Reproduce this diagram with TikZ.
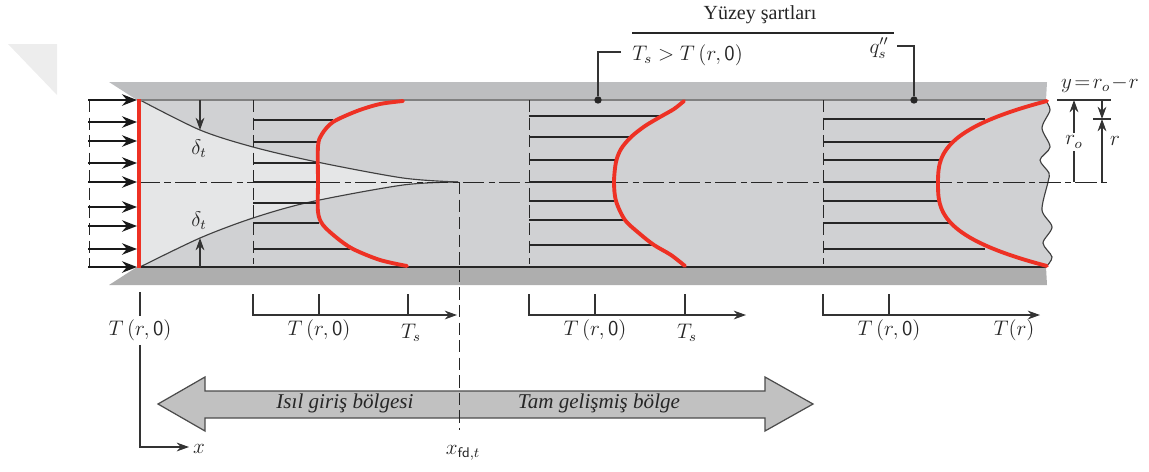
\documentclass[tikz,border=0pt]{standalone}
\usepackage{amsmath,amssymb}
\usepackage{fontspec}
\setmainfont{Liberation Serif}
\usetikzlibrary{arrows.meta,calc}
\definecolor{wallTop}{HTML}{BDBEC0}
\definecolor{wallBot}{HTML}{AEAEAE}
\definecolor{tubeGray}{HTML}{D0D1D3}
\definecolor{coreGray}{HTML}{E5E6E7}
\definecolor{profRed}{HTML}{EE3124}
\definecolor{bandGray}{HTML}{C1C1C1}
\begin{document}
\begin{tikzpicture}[
    x=0.02cm, y=-0.02cm,
    lbl/.style={font=\fontsize{12}{14}\selectfont, inner sep=0pt, text=black!85},
    bar/.style={line width=1.2pt, black!85},
    prof/.style={line width=2.2pt, profRed, line cap=round},
    dashv/.style={line width=0.55pt, dash pattern=on 7pt off 3pt, black!85},
    axis/.style={line width=0.65pt, black!80, -{Stealth[length=7pt,width=5pt]}},
    tick/.style={line width=0.65pt, black!80},
    dimarr/.style={line width=0.65pt, black!80, -{Stealth[length=7pt,width=5pt]}},
    inarr/.style={line width=1.2pt, black!90, -{Stealth[length=8.5pt,width=6.5pt]}},
    centerl/.style={line width=0.55pt, black!85, dash pattern=on 12pt off 2.5pt on 3.5pt off 2.5pt},
    blayer/.style={line width=0.65pt, black!75}
]
\useasboundingbox (0,0) rectangle (1149,471);
\fill[black!7] (8,44) -- (57,44) -- (57,95) -- cycle;

\fill[wallTop] (109,82) -- (1047,82) -- (1046,100) -- (137,100) -- cycle;
\fill[wallBot] (137,267) -- (1046,267) -- (1047,285) -- (109,285) -- cycle;
\fill[tubeGray] (137,100) -- plot[smooth] coordinates {(1045,100) (1050,110) (1042,128) (1050,147) (1040,160) (1049,173) (1048,182) (1042,210) (1052,227) (1043,243) (1052,257) (1046,267)} -- (137,267) -- cycle;
\draw[line width=0.65pt, black!75] plot[smooth] coordinates {(1045,100) (1050,110) (1042,128) (1050,147) (1040,160) (1049,173) (1048,182) (1042,210) (1052,227) (1043,243) (1052,257) (1046,267)};
\fill[coreGray] plot[smooth] coordinates {(140,100) (200,130) (253,147) (317,162) (403,178) (458,182)} -- plot[smooth] coordinates {(458,182) (403,185) (310,202) (253,218) (200,238) (140,267)} -- cycle;
\draw[blayer] plot[smooth] coordinates {(140,100) (200,130) (253,147) (317,162) (403,178) (458,182)};
\draw[blayer] plot[smooth] coordinates {(140,267) (200,238) (253,218) (310,202) (403,185) (458,182)};

\draw[line width=1pt, black!50] (137,100) -- (1046,100);
\draw[line width=1pt, black!85] (137,267) -- (1046,267);
\coordinate (cl0) at (139,182);
\coordinate (cl1) at (1111,182);
\draw[centerl] (cl0) -- (cl1);

\draw[dashv] (89,100) -- (89,267);
\foreach \yy in {100,122,141,163,182,207,226,249,267}
    \draw[inarr] (88,\yy) -- (137,\yy);

\draw[dashv] (253,100) -- (253,264);
\foreach \yy/\xe in {120/333,142/318,163/318,182/318,203/318,223/319,249/350}
    \draw[bar] (253,\yy) -- (\xe,\yy);
\draw[dashv] (529,100) -- (529,264);
\foreach \yy/\xe in {116/660,137/631,160/617,182/614,201/616,220/625,245/654}
    \draw[bar] (529,\yy) -- (\xe,\yy);
\draw[dashv] (823,100) -- (823,264);
\foreach \yy/\xe in {119/985,142/952,160/941,182/938,201/941,223/952,249/985}
    \draw[bar] (823,\yy) -- (\xe,\yy);

\draw[line width=2.6pt, profRed] (139,99) -- (139,268);
\draw[prof] plot[smooth] coordinates {(403,101) (380,104) (357,111) (333,122) (322,134) (318,146) (318,182) (318,212) (323,225) (337,238) (353,249) (380,260) (407,266)};
\draw[prof] plot[smooth] coordinates {(684,101) (674,109) (660,117) (645,126) (631,137) (621,149) (616,162) (614,182) (616,201) (625,220) (640,234) (654,245) (671,255) (685,266)};
\draw[prof] plot[domain=-1:1, samples=60, smooth] ({938+109*abs(\x)^2.9},{183.5+82.5*\x});

\coordinate (dTop) at (200,100);
\coordinate (dTopEnd) at (200,130);
\coordinate (dBot) at (200,267);
\coordinate (dBotEnd) at (200,238);
\draw[dimarr] (dTop) -- (dTopEnd);
\draw[dimarr] (dBot) -- (dBotEnd);
\node[lbl] (deltaA) at (199,149) {$\delta_t$};
\node[lbl] (deltaB) at (199,221) {$\delta_t$};

\node[lbl, font=\fontsize{11.4}{13}\selectfont] (cond) at (760,15) {Yüzey şartları};
\coordinate (ruleL) at (632,33);
\coordinate (ruleR) at (894,33);
\draw[line width=0.7pt, black!85] (ruleL) -- (ruleR);
\node[lbl, anchor=west] (condT) at (632,55) {$T_s > T\,(r,\mathsf{0})$};
\node[lbl] (condQ) at (879,48) {$q_s''$};
\node[circle, fill=black!85, inner sep=0pt, minimum size=4.2pt] (dotT) at (598,100) {};
\node[circle, fill=black!85, inner sep=0pt, minimum size=4.2pt] (dotQ) at (914,100) {};
\coordinate (leadT) at (621,52);
\coordinate (leadQ) at (897,46);
\draw[tick] (leadT) -| (dotT);
\draw[tick] (leadQ) -| (dotQ);

\node[lbl] (yeq) at (1100,84) {$y\!=\!r_o\!-\!r$};
\coordinate (wallR) at (1057,100);
\coordinate (wallRe) at (1111,100);
\draw[tick] (wallR) -- (wallRe);
\node[lbl] (ro) at (1074,142) {$r_o$};
\coordinate (roTop) at (1074,100);
\coordinate (roBot) at (1074,182);
\draw[dimarr] ($(ro.north)+(0,-3)$) -- (roTop);
\draw[tick] ($(ro.south)+(0,3)$) -- (roBot);
\coordinate (rMidL) at (1093,119);
\coordinate (rMidR) at (1111,119);
\coordinate (rTop) at (1102,100);
\coordinate (rBot) at (1102,182);
\coordinate (rMid) at (1102,119);
\draw[tick] (rMidL) -- (rMidR);
\draw[dimarr] (rTop) -- (rMid);
\draw[dimarr] (rBot) -- (rMid);
\node[lbl] (rr) at (1115,141) {$r$};

\node[lbl] (T0) at (140,330) {$T\,(r,\mathsf{0})$};
\coordinate (t0top) at (140,292);
\coordinate (xcorner) at (140,447);
\coordinate (xend) at (189,447);
\draw[tick] (t0top) -- ($(T0.north)+(0,-3)$);
\draw[axis] ($(T0.south)+(0,4)$) -- (xcorner) -- (xend);
\node[lbl] (xlab) at (199,449) {$x$};

\coordinate (a1) at (253,294);
\coordinate (a1c) at (253,315);
\coordinate (a1e) at (457,315);
\draw[axis] (a1) -- (a1c) -- (a1e);
\node[lbl] (a1T) at (319,330) {$T\,(r,\mathsf{0})$};
\node[lbl] (a1S) at (411,333) {$T_s$};
\draw[tick] (319,294) -- (319,315);
\draw[tick] (408,294) -- (408,315);

\coordinate (a2) at (529,294);
\coordinate (a2c) at (529,315);
\coordinate (a2e) at (746,315);
\draw[axis] (a2) -- (a2c) -- (a2e);
\node[lbl] (a2T) at (595,330) {$T\,(r,\mathsf{0})$};
\node[lbl] (a2S) at (687,333) {$T_s$};
\draw[tick] (595,294) -- (595,315);
\draw[tick] (685,294) -- (685,315);

\coordinate (a3) at (823,294);
\coordinate (a3c) at (823,315);
\coordinate (a3e) at (1040,315);
\draw[axis] (a3) -- (a3c) -- (a3e);
\node[lbl] (a3T) at (889,330) {$T\,(r,\mathsf{0})$};
\node[lbl] (a3R) at (1014,330) {$T(r)$};
\draw[tick] (889,294) -- (889,315);

\draw[line width=0.7pt, black!70, fill=bandGray] (158,404) -- (205,377) -- (205,391) -- (765,391) -- (765,377) -- (813,404) -- (765,431) -- (765,418) -- (205,418) -- (205,431) -- cycle;
\node[lbl, font=\fontsize{12}{14}\selectfont\itshape] (entry) at (345,403) {Isıl giriş bölgesi};
\node[lbl, font=\fontsize{12}{14}\selectfont\itshape] (fulldev) at (599,403) {Tam gelişmiş bölge};

\coordinate (fdTop) at (459,182);
\coordinate (fdBot) at (459,430);
\draw[dashv] (fdTop) -- (fdBot);
\node[lbl] (xfd) at (463,453) {$x_{\mathsf{fd},t}$};
\end{tikzpicture}
\end{document}
